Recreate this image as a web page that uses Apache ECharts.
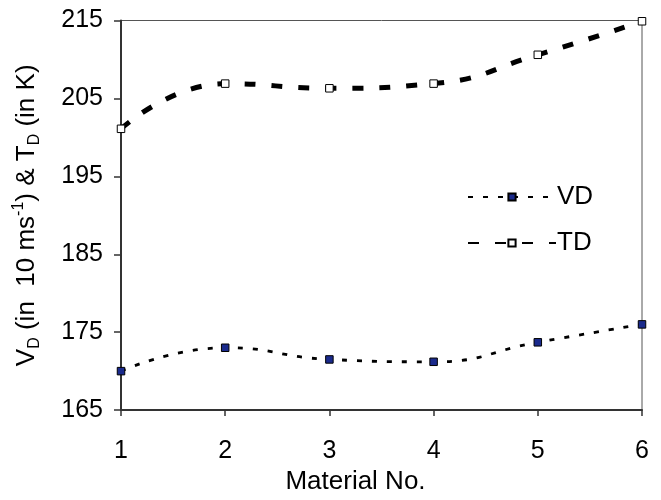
<!DOCTYPE html>
<html>
<head>
<meta charset="utf-8">
<script src="https://cdn.jsdelivr.net/npm/echarts@6/dist/echarts.min.js"></script>
<style>html,body{margin:0;padding:0;background:#fff}#c{width:661px;height:500px}</style>
</head>
<body>
<div id="c"></div>
<script>
var categories = ['1', '2', '3', '4', '5', '6'];
var vdValues = [170.0, 173.0, 171.5, 171.2, 173.7, 176.0];
var tdValues = [201.1, 206.9, 206.3, 206.9, 210.6, 214.9];
var yTicks = [165, 175, 185, 195, 205, 215];

var FONT = 'Liberation Sans, Arial, sans-serif';
var chart = echarts.init(document.getElementById('c'));
chart.setOption({
  animation: false,
  backgroundColor: '#fff',
  grid: { left: 121, right: 19, top: 20.5, bottom: 87.5, show: true, borderColor: '#555', borderWidth: 1, containLabel: false },
  legend: {
    orient: 'vertical', left: 462, top: 179,
    itemWidth: 88, itemHeight: 9, itemGap: 20,
    textStyle: { fontFamily: FONT, fontSize: 26, color: '#000', padding: [0, 0, 0, -4] },
    data: ['VD', 'TD']
  },
  xAxis: {
    type: 'category', data: categories, boundaryGap: false,
    name: 'Material No.', nameLocation: 'middle', nameGap: 57,
    nameTextStyle: { fontFamily: FONT, fontSize: 26, color: '#000', padding: [0, 52, 0, 0] },
    axisLine: { lineStyle: { color: '#333', width: 2 } },
    axisTick: { show: true, length: 6, inside: false, lineStyle: { color: '#333', width: 1.5 } },
    axisLabel: { fontFamily: FONT, fontSize: 25, color: '#000', margin: 29 },
    splitLine: { show: false }
  },
  yAxis: {
    type: 'value', min: yTicks[0], max: yTicks[yTicks.length - 1], interval: 10,
    name: '{m|V}{sub|D}{m| (in  10 ms}{sup|-1}{m|) & T}{sub|D}{m| (in K)}',
    nameLocation: 'middle', nameGap: 78, nameRotate: 90,
    nameTextStyle: {
      rich: {
        m: { fontFamily: FONT, fontSize: 26, color: '#000', lineHeight: 32 },
        sub: { fontFamily: FONT, fontSize: 16, color: '#000', lineHeight: 15, verticalAlign: 'bottom' },
        sup: { fontFamily: FONT, fontSize: 16, color: '#000', lineHeight: 15, verticalAlign: 'top' }
      }
    },
    axisLine: { show: true, lineStyle: { color: '#333', width: 2 } },
    axisTick: { show: true, length: 7, inside: false, lineStyle: { color: '#333', width: 1.5 } },
    axisLabel: { fontFamily: FONT, fontSize: 25, color: '#000', margin: 18 },
    splitLine: { show: false }
  },
  series: [
    {
      name: 'VD', type: 'line', data: vdValues, smooth: 0.5,
      symbol: 'rect', symbolSize: 7.5,
      itemStyle: { color: '#1a2a8c', borderColor: '#000', borderWidth: 1 },
      lineStyle: { color: '#000', width: 2.8, type: [5, 10] },
      z: 3
    },
    {
      name: 'TD', type: 'line', data: tdValues, smooth: 0.5,
      symbol: 'rect', symbolSize: 7.5,
      itemStyle: { color: '#fff', borderColor: '#000', borderWidth: 1 },
      lineStyle: { color: '#000', width: 5, type: [11, 16] },
      z: 3
    }
  ]
});
</script>
</body>
</html>
